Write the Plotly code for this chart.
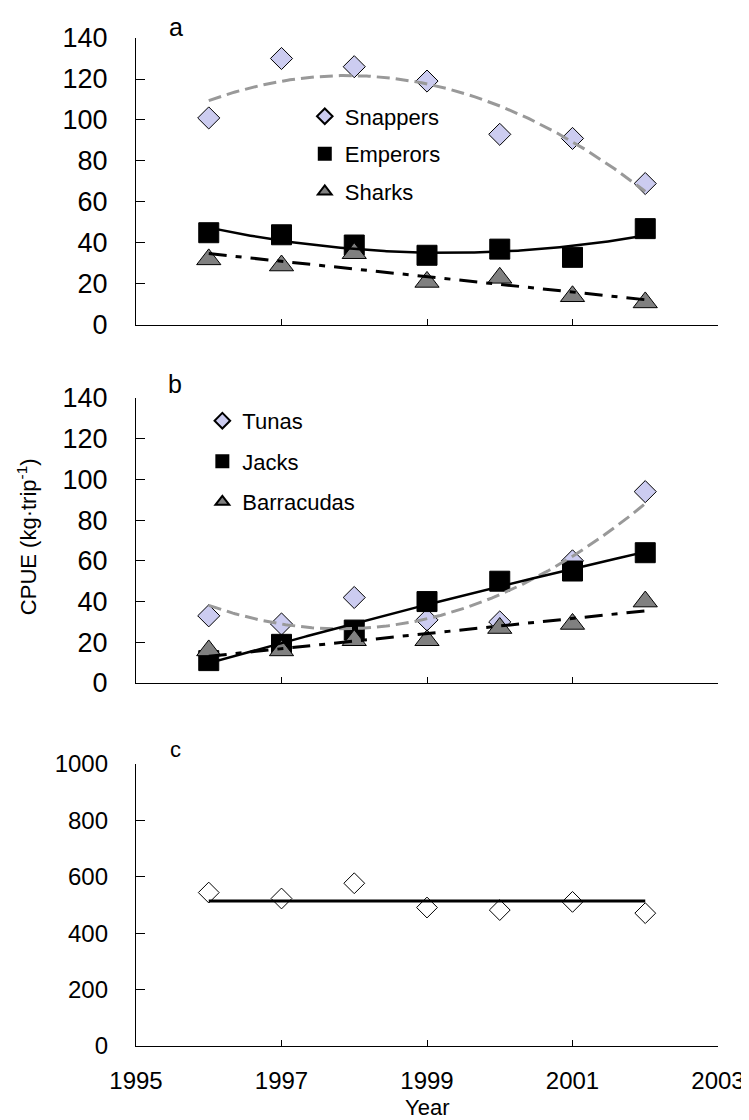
import numpy as np
import plotly.graph_objects as go

# ---------------- data ----------------
years = [1996, 1997, 1998, 1999, 2000, 2001, 2002]
snappers = [101, 130, 126, 119, 93, 91, 69]
emperors = [45, 44, 39, 34, 37, 33, 47]
sharks = [32, 29, 35, 21, 23, 14, 11]
tunas = [33, 29, 42, 31, 30, 60, 94]
jacks = [11, 19, 26, 40, 50, 55, 64]
barracudas = [16, 16, 21, 21, 27, 29, 40]
total = [544, 523, 577, 491, 482, 511, 471]

x_tickvals = [1995, 1997, 1999, 2001, 2003]
x_ticktext = ["1995", "1997", "1999", "2001", "2003"]
panel_labels = ["a", "b", "c"]

FONT = "Arial, Liberation Sans, sans-serif"


def trend(values, deg):
    xc = np.array(years, dtype=float) - 1999.0
    coefs = np.polyfit(xc, np.array(values, dtype=float), deg)
    xs = np.linspace(years[0], years[-1], 200)
    return xs, np.polyval(coefs, xs - 1999.0)


fig = go.Figure()

LAV = "#ccccf0"
GRAY = "#808080"

# ---------- panel a markers ----------
fig.add_trace(go.Scatter(x=years, y=snappers, mode="markers", name="Snappers",
                         marker=dict(symbol="diamond", size=17, color=LAV, line=dict(color="black", width=1)),
                         xaxis="x", yaxis="y", legend="legend", legendgroup="a1"))
fig.add_trace(go.Scatter(x=years, y=emperors, mode="markers", name="Emperors",
                         marker=dict(symbol="square", size=20, color="black", line=dict(color="black", width=1)),
                         xaxis="x", yaxis="y", legend="legend", legendgroup="a2"))
fig.add_trace(go.Scatter(x=years, y=sharks, mode="markers", name="Sharks",
                         marker=dict(symbol="triangle-up", size=21, color=GRAY, line=dict(color="black", width=1)),
                         xaxis="x", yaxis="y", legend="legend", legendgroup="a3"))

# ---------- panel b markers ----------
fig.add_trace(go.Scatter(x=years, y=tunas, mode="markers", name="Tunas",
                         marker=dict(symbol="diamond", size=17, color=LAV, line=dict(color="black", width=1)),
                         xaxis="x2", yaxis="y2", legend="legend2", legendgroup="b1"))
fig.add_trace(go.Scatter(x=years, y=jacks, mode="markers", name="Jacks",
                         marker=dict(symbol="square", size=20, color="black", line=dict(color="black", width=1)),
                         xaxis="x2", yaxis="y2", legend="legend2", legendgroup="b2"))
fig.add_trace(go.Scatter(x=years, y=barracudas, mode="markers", name="Barracudas",
                         marker=dict(symbol="triangle-up", size=21, color=GRAY, line=dict(color="black", width=1)),
                         xaxis="x2", yaxis="y2", legend="legend2", legendgroup="b3"))

# ---------- panel c markers ----------
fig.add_trace(go.Scatter(x=years, y=total, mode="markers", name="Total",
                         marker=dict(symbol="diamond", size=16, color="white", line=dict(color="black", width=1)),
                         xaxis="x3", yaxis="y3", showlegend=False))

# ---------- trend lines ----------
GRAY_DASH = dict(color="#999999", width=3, dash="13px,6px")
SOLID = dict(color="black", width=2.5)
DASHDOT = dict(color="black", width=3, dash="18px,9px,6px,9px")

for vals, deg, ln, xa, ya in [
    (snappers, 2, GRAY_DASH, "x", "y"),
    (emperors, 2, SOLID, "x", "y"),
    (sharks, 1, DASHDOT, "x", "y"),
    (tunas, 2, GRAY_DASH, "x2", "y2"),
    (jacks, 2, SOLID, "x2", "y2"),
    (barracudas, 1, DASHDOT, "x2", "y2"),
]:
    xs, ys = trend(vals, deg)
    fig.add_trace(go.Scatter(x=xs, y=ys, mode="lines", line=ln, xaxis=xa, yaxis=ya,
                             showlegend=False, hoverinfo="skip"))

mean_total = float(np.mean(total))
fig.add_trace(go.Scatter(x=[years[0], years[-1]], y=[mean_total, mean_total], mode="lines",
                         line=dict(color="black", width=3), xaxis="x3", yaxis="y3",
                         showlegend=False, hoverinfo="skip"))

# ---------- axes ----------
ax_common = dict(showgrid=False, zeroline=False, showline=True, linecolor="black", linewidth=1.3,
                 ticks="inside", tickcolor="black", tickwidth=1.3)
font_ab = dict(family=FONT, size=27, color="black")
font_c = dict(family=FONT, size=24, color="black")

xdom = [0, 1]
fig.update_layout(
    xaxis=dict(domain=xdom, range=[1995, 2003], tickvals=x_tickvals, ticktext=x_ticktext,
               showticklabels=False, anchor="y", ticklen=6, tickfont=font_ab, **ax_common),
    yaxis=dict(domain=[0.7153, 1.0], range=[0, 140], dtick=20, anchor="x", ticklen=9,
               ticklabelstandoff=22, tickfont=font_ab, **ax_common),
    xaxis2=dict(domain=xdom, range=[1995, 2003], tickvals=x_tickvals, ticktext=x_ticktext,
                showticklabels=False, anchor="y2", ticklen=6, tickfont=font_ab, **ax_common),
    yaxis2=dict(domain=[0.3601, 0.6429], range=[0, 140], dtick=20, anchor="x2", ticklen=9,
                ticklabelstandoff=22, tickfont=font_ab, **ax_common),
    xaxis3=dict(domain=xdom, range=[1995, 2003], tickvals=x_tickvals, ticktext=x_ticktext,
                anchor="y3", ticklen=6, ticklabelstandoff=13, tickfont=font_c, **ax_common),
    yaxis3=dict(domain=[0.0, 0.2798], range=[0, 1000], dtick=200, anchor="x3", ticklen=9,
                ticklabelstandoff=22, tickfont=font_c, **ax_common),
)

legend_common = dict(bgcolor="rgba(0,0,0,0)", borderwidth=0, itemsizing="constant",
                     font=dict(family=FONT, size=22, color="black"),
                     xanchor="left", yanchor="top", itemclick=False, itemdoubleclick=False)

fig.update_layout(
    width=749, height=1120,
    margin=dict(l=128, r=34, t=30, b=82),
    paper_bgcolor="white", plot_bgcolor="white",
    font=dict(family=FONT, color="black"),
    showlegend=True,
    legend=dict(x=0.290, y=0.943, tracegroupgap=6, **legend_common),
    legend2=dict(x=0.114, y=0.641, tracegroupgap=9, **legend_common),
)

annotations = [
    dict(text=panel_labels[0], x=0.068, y=1.011, xref="paper", yref="paper", showarrow=False,
         font=dict(family=FONT, size=25), xanchor="center", yanchor="middle"),
    dict(text=panel_labels[1], x=0.067, y=0.6567, xref="paper", yref="paper", showarrow=False,
         font=dict(family=FONT, size=25), xanchor="center", yanchor="middle"),
    dict(text=panel_labels[2], x=0.068, y=0.2946, xref="paper", yref="paper", showarrow=False,
         font=dict(family=FONT, size=22), xanchor="center", yanchor="middle"),
    dict(text="CPUE (kg·trip<sup>-1</sup>)", x=-0.187, y=0.505, xref="paper", yref="paper",
         showarrow=False, textangle=-90, font=dict(family=FONT, size=22),
         xanchor="center", yanchor="middle"),
    dict(text="Year", x=0.5, y=-0.0615, xref="paper", yref="paper", showarrow=False,
         font=dict(family=FONT, size=22), xanchor="center", yanchor="middle"),
]
fig.update_layout(annotations=annotations)

fig.write_html("out.html")
